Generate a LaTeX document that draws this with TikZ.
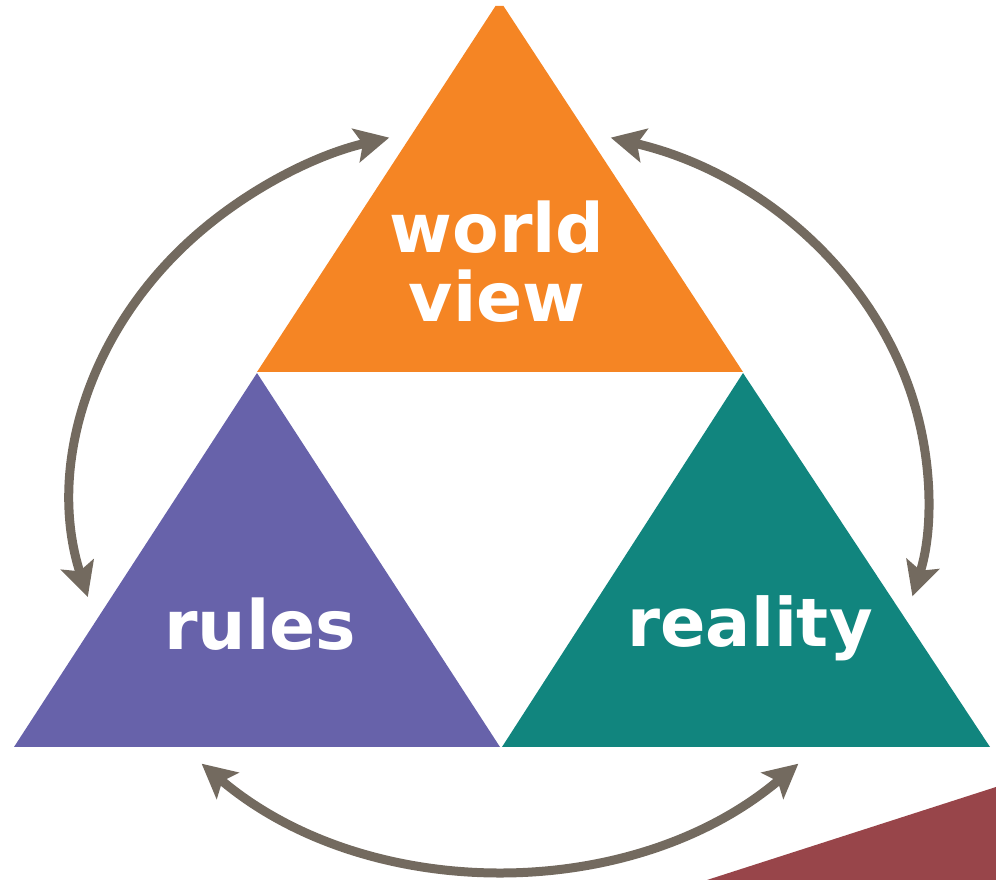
\documentclass[tikz,border=0pt]{standalone}
\usepackage{fontspec}
\setmainfont{DejaVu Sans}
\usetikzlibrary{arrows.meta,calc}
\definecolor{wvorange}{HTML}{F58524}
\definecolor{rulespurple}{HTML}{6762AA}
\definecolor{realteal}{HTML}{11857E}
\definecolor{cyclegray}{HTML}{736A5F}
\definecolor{cornerred}{HTML}{98454A}
\begin{document}
\begin{tikzpicture}[x=1pt,y=1pt,
  label text/.style={text=white, font=\bfseries\fontsize{68}{69}\selectfont, inner sep=0pt, align=center},
  cycle arrow/.style={draw=cyclegray, line width=9pt,
    {Stealth[length=34pt,width=34pt,inset=7pt]}-{Stealth[length=34pt,width=34pt,inset=7pt]}}]
\useasboundingbox (0,0) rectangle (996,880);
% corner shape
\fill[cornerred] (707,0) -- (996,93) -- (996,0) -- cycle;
% triangle vertices
\coordinate (oL) at (257,508);
\coordinate (oR) at (743,508);
\coordinate (oT1) at (495.5,874);
\coordinate (oT2) at (503.5,874);
\coordinate (pT) at (257,507);
\coordinate (pL) at (14,133);
\coordinate (pR) at (500,133);
\coordinate (tT) at (743,507);
\coordinate (tL) at (502,133);
\coordinate (tR) at (990,133);
\fill[wvorange] (oL) -- (oR) -- (oT2) -- (oT1) -- cycle;
\fill[rulespurple] (pT) -- (pR) -- (pL) -- cycle;
\fill[realteal] (tT) -- (tR) -- (tL) -- cycle;
% labels
\node[label text, anchor=base] (worldview) at (497,558) {world\\view};
\node[label text, anchor=base] (rules) at (260,230) {rules};
\node[label text, anchor=base, font=\bfseries\fontsize{67}{69}\selectfont] (reality) at (750,233) {reality};
% cycle arrows
\coordinate (ctr) at (500,383);
\coordinate (l1) at ($(ctr)+(195.6:428 and 372)$);
\coordinate (r1) at ($(ctr)+(75:428 and 372)$);
\coordinate (b1) at ($(ctr)+(225.8:428 and 372)$);
\draw[cycle arrow] (l1) arc[start angle=195.6, end angle=105, x radius=428pt, y radius=372pt];
\draw[cycle arrow] (r1) arc[start angle=75, end angle=-15.5, x radius=428pt, y radius=372pt];
\draw[cycle arrow] (b1) arc[start angle=225.8, end angle=314.2, x radius=428pt, y radius=372pt];
\end{tikzpicture}
\end{document}
